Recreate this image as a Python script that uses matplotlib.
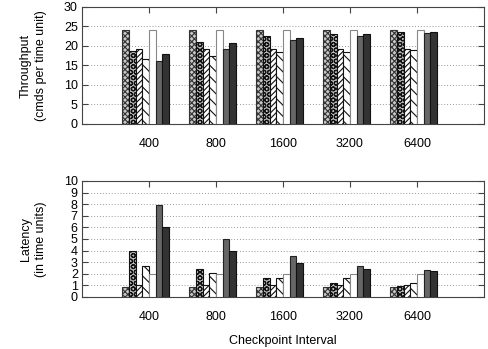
import numpy as np
import matplotlib
matplotlib.use('Agg')
import matplotlib.pyplot as plt

plt.rcParams['font.family'] = ['Liberation Sans', 'DejaVu Sans']
plt.rcParams['hatch.linewidth'] = 0.8

intervals = ['400', '800', '1600', '3200', '6400']

# throughput per series (cmds per time unit)
thr_checker = [24.0, 24.0, 24.0, 24.0, 24.0]
thr_circles = [18.7, 20.9, 22.6, 23.1, 23.5]
thr_fwd = [19.1, 19.1, 19.1, 19.1, 19.1]
thr_back = [16.6, 17.5, 18.4, 18.4, 18.9]
thr_white = [24.0, 24.0, 24.0, 24.0, 24.0]
thr_gray = [16.1, 19.1, 21.5, 22.6, 23.4]
thr_dark = [17.9, 20.7, 22.0, 23.1, 23.5]

# latency per series (time units)
lat_checker = [0.86, 0.86, 0.86, 0.86, 0.86]
lat_circles = [3.95, 2.4, 1.6, 1.2, 0.98]
lat_fwd = [1.07, 1.07, 1.07, 1.07, 1.07]
lat_back = [2.7, 2.1, 1.6, 1.6, 1.2]
lat_white = [1.96, 1.96, 1.96, 1.96, 1.96]
lat_gray = [7.95, 5.0, 3.5, 2.7, 2.36]
lat_dark = [6.0, 4.0, 2.95, 2.45, 2.25]

styles = [
    dict(color='#c8c8c8', hatch='xxxxxx', edgecolor='#333333'),
    dict(color='#bbbbbb', hatch='OOO', edgecolor='#111111'),
    dict(color='white', hatch='//////', edgecolor='#111111'),
    dict(color='white', hatch='\\\\\\', edgecolor='#111111'),
    dict(color='white', hatch='', edgecolor='#888888'),
    dict(color='#666666', hatch='', edgecolor='#222222'),
    dict(color='#333333', hatch='', edgecolor='#111111'),
]

fig = plt.figure(figsize=(4.89, 3.49), dpi=100)
ax1 = fig.add_axes([0.1677, 0.6447, 0.822, 0.3353])
ax2 = fig.add_axes([0.1677, 0.149, 0.822, 0.3324])

x = np.arange(len(intervals))
w = 0.1


def draw(ax, series, ymax, step, ylabel):
    for i, (vals, st) in enumerate(zip(series, styles)):
        ax.bar(x - 0.35 + i * w, vals, w, facecolor=st['color'],
               hatch=st['hatch'], edgecolor=st['edgecolor'], linewidth=0.8,
               zorder=3)
    ax.set_xlim(-1, 5)
    ax.set_ylim(0, ymax)
    ax.set_yticks(np.arange(0, ymax + 1, step))
    ax.set_xticks(x)
    ax.set_xticklabels(intervals, fontsize=9)
    ax.tick_params(axis='both', direction='in', top=True, right=True,
                   length=4, width=0.8, color='#444444', labelsize=9)
    ax.tick_params(axis='y', pad=3)
    ax.tick_params(axis='x', pad=10)
    for t in ax.get_yticks()[1:-1]:
        ax.axhline(t, color='#999999', linestyle=(0, (1, 2)), linewidth=0.7,
                   zorder=1)
    for s in ax.spines.values():
        s.set_color('#444444')
        s.set_linewidth(0.8)
    ax.set_ylabel(ylabel, fontsize=9, linespacing=1.4, labelpad=12)


draw(ax1, [thr_checker, thr_circles, thr_fwd, thr_back, thr_white, thr_gray, thr_dark],
     30, 5, 'Throughput\n(cmds per time unit)')
draw(ax2, [lat_checker, lat_circles, lat_fwd, lat_back, lat_white, lat_gray, lat_dark],
     10, 1, 'Latency\n(in time units)')
ax2.set_xlabel('Checkpoint Interval', fontsize=9, labelpad=9)

fig.savefig('out.png', dpi=100)
